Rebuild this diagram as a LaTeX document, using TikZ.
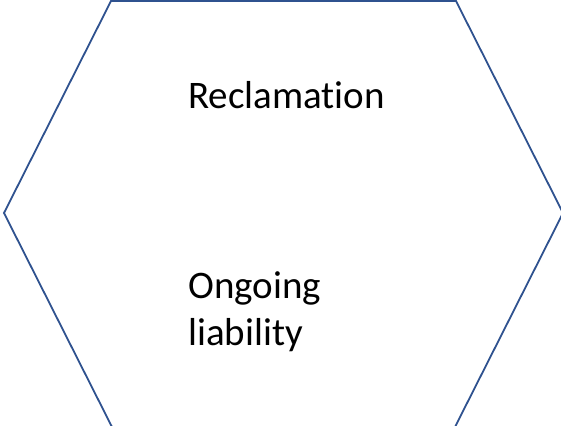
\documentclass[tikz,border=0pt]{standalone}
\usepackage{fontspec}
\setmainfont{Carlito}[Ligatures=NoCommon]
\definecolor{hexblue}{RGB}{47,82,143}
\begin{document}
\begin{tikzpicture}[x=1pt,y=1pt,
  hexline/.style={draw=hexblue,line width=1.8pt,line join=miter},
  label/.style={anchor=base west,inner sep=0pt,font=\fontsize{39}{47}\selectfont,text=black}]
\useasboundingbox (0,0) rectangle (561,425);
\begin{scope}
\clip (0,0) rectangle (561,425);
\coordinate (tl) at (111,424);
\coordinate (tr) at (456,424);
\coordinate (r) at (563,212);
\coordinate (l) at (4,212);
\coordinate (blx) at (112,-2);
\coordinate (brx) at (455,-2);
\draw[hexline] (blx) -- (l) -- (tl) -- (tr) -- (r) -- (brx);
\end{scope}
\node[label] (rec) at (188,316) {Reclamation};
\node[label] (ong) at (188,126) {Ongoing};
\node[label] (lia) at (188,79) {liability};
\end{tikzpicture}
\end{document}
